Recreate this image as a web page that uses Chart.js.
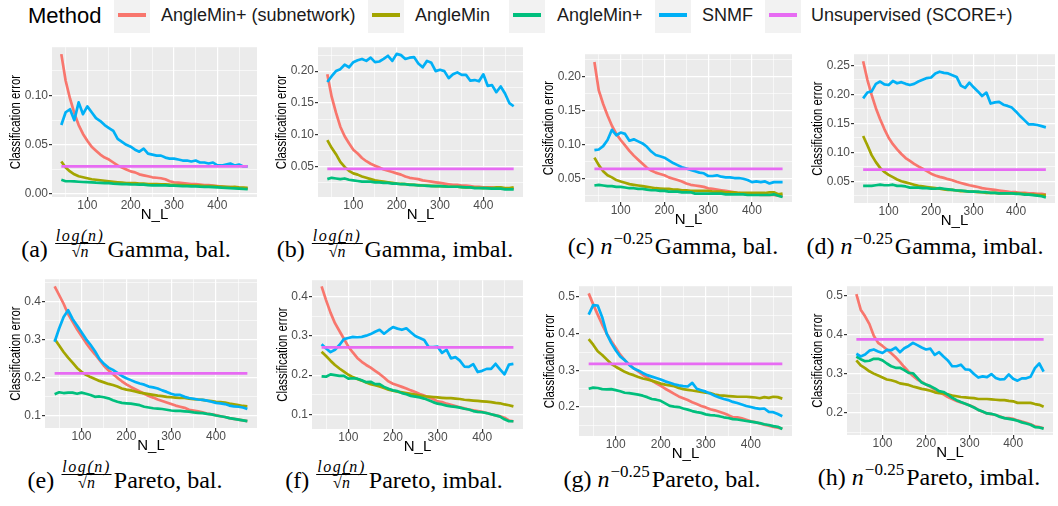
<!DOCTYPE html>
<html>
<head>
<meta charset="utf-8">
<script src="https://cdn.jsdelivr.net/npm/chart.js@4.4.1/dist/chart.umd.min.js"></script>
<style>
  body { margin: 0; background: #fff; width: 1058px; height: 506px; position: relative; overflow: hidden; font-family: "Liberation Sans", Arial, sans-serif; }
  canvas { position: absolute; }
  .key { position: absolute; top: 0; width: 36px; height: 33px; background: #F2F2F2; }
  .key i { position: absolute; left: 4px; right: 4px; top: 13px; height: 4px; }
  .lab { position: absolute; top: 6px; font-size: 18px; line-height: 18px; color: #1a1a1a; white-space: nowrap; }
  .cap { position: absolute; transform: translateX(-50%); font-family: "Liberation Serif", "Times New Roman", serif; font-size: 24px; line-height: 26px; white-space: nowrap; color: #000; }
  .frac { display: inline-block; text-align: center; font-size: 16px; line-height: 13px; margin: 0 2px 0 1px; }
  .frac .num { display: block; font-style: italic; border-bottom: 1px solid #000; padding: 0 1px 1px; letter-spacing: 1.6px; }
  .frac .den { display: block; padding-top: 1px; }
  .ov { border-top: 1px solid #000; font-style: italic; }
  .cap sup { font-size: 17px; vertical-align: 10px; line-height: 0; margin: 0 2px 0 1px; }
</style>
</head>
<body>
<div id="legend"></div>

<div class="cap" style="left:126px;top:229px">(a) <span class="frac"><span class="num">log(n)</span><span class="den">√<span class="ov">n</span></span></span>Gamma, bal.</div>
<div class="cap" style="left:395px;top:229px">(b) <span class="frac"><span class="num">log(n)</span><span class="den">√<span class="ov">n</span></span></span>Gamma, imbal.</div>
<div class="cap" style="left:673px;top:233px">(c) <i>n</i><sup>−0.25</sup>Gamma, bal.</div>
<div class="cap" style="left:925px;top:233px">(d) <i>n</i><sup>−0.25</sup>Gamma, imbal.</div>
<div class="cap" style="left:125px;top:460px">(e) <span class="frac"><span class="num">log(n)</span><span class="den">√<span class="ov">n</span></span></span>Pareto, bal.</div>
<div class="cap" style="left:394px;top:460px">(f) <span class="frac"><span class="num">log(n)</span><span class="den">√<span class="ov">n</span></span></span>Pareto, imbal.</div>
<div class="cap" style="left:662px;top:466px">(g) <i>n</i><sup>−0.25</sup>Pareto, bal.</div>
<div class="cap" style="left:929px;top:464px">(h) <i>n</i><sup>−0.25</sup>Pareto, imbal.</div>

<script>
// method names and ggplot hue colours
const methods = ["AngleMin+ (subnetwork)", "AngleMin", "AngleMin+", "SNMF", "Unsupervised (SCORE+)"];
const colors = ["#F8766D", "#A3A500", "#00BF7D", "#00B0F6", "#E76BF3"];

// N_L values on the x axis
const nL = [40, 50, 60, 70, 80, 90, 100, 110, 120, 130, 140, 150, 160, 170, 180, 190, 200, 210, 220, 230, 240, 250,
  260, 270, 280, 290, 300, 310, 320, 330, 340, 350, 360, 370, 380, 390, 400, 410, 420, 430, 440, 450, 460, 470];
const xTicks = [100, 200, 300, 400];

// (a) log(n)/sqrt(n), Gamma, balanced
const subA = [0.142,0.115,0.097,0.082,0.070,0.061,0.054,0.048,0.044,0.040,0.037,0.035,0.032,0.029,0.027,0.025,0.023,0.022,0.020,0.019,0.018,0.017,0.0165,0.016,0.015,0.013,0.012,0.0115,0.011,0.0105,0.010,0.010,0.0095,0.009,0.009,0.0085,0.008,0.0075,0.007,0.007,0.0065,0.006,0.006,0.0055];
const minA = [0.033,0.027,0.023,0.020,0.018,0.017,0.016,0.015,0.0145,0.014,0.0135,0.013,0.0125,0.012,0.0115,0.011,0.011,0.011,0.0105,0.0105,0.010,0.010,0.010,0.0098,0.0098,0.0095,0.0093,0.009,0.009,0.0088,0.0087,0.0085,0.0085,0.008,0.008,0.008,0.0077,0.0075,0.0073,0.007,0.0072,0.0068,0.0065,0.0062];
const plusA = [0.0145,0.013,0.013,0.0128,0.0125,0.0122,0.012,0.0118,0.0115,0.0113,0.011,0.011,0.0105,0.0103,0.010,0.010,0.0098,0.0097,0.0095,0.0095,0.009,0.0088,0.0088,0.0087,0.0087,0.0085,0.0085,0.0083,0.008,0.008,0.0078,0.0078,0.0075,0.0073,0.0072,0.007,0.0068,0.0065,0.0063,0.006,0.0058,0.0055,0.0052,0.005];
const snmfA = [0.070,0.083,0.086,0.075,0.093,0.081,0.089,0.083,0.077,0.074,0.070,0.067,0.064,0.056,0.053,0.050,0.048,0.045,0.043,0.046,0.041,0.040,0.039,0.039,0.037,0.036,0.036,0.035,0.034,0.034,0.033,0.034,0.032,0.032,0.031,0.032,0.029,0.029,0.030,0.031,0.029,0.030,0.028,0.028];
const scoreA = 0.028;
const yTicksA = [0.00, 0.05, 0.10];

// (b) log(n)/sqrt(n), Gamma, imbalanced
const subB = [0.195,0.160,0.135,0.113,0.098,0.087,0.077,0.071,0.064,0.059,0.055,0.052,0.049,0.046,0.044,0.042,0.040,0.038,0.035,0.033,0.032,0.031,0.029,0.028,0.027,0.026,0.025,0.024,0.023,0.022,0.022,0.021,0.021,0.020,0.019,0.019,0.018,0.018,0.018,0.017,0.017,0.016,0.016,0.016];
const minB = [0.092,0.080,0.070,0.058,0.050,0.044,0.040,0.038,0.035,0.033,0.031,0.029,0.028,0.027,0.026,0.025,0.024,0.0235,0.023,0.0225,0.022,0.0215,0.021,0.021,0.0205,0.020,0.020,0.0195,0.019,0.019,0.019,0.0185,0.018,0.018,0.0175,0.0175,0.017,0.0175,0.017,0.018,0.018,0.017,0.017,0.018];
const plusB = [0.031,0.033,0.032,0.031,0.032,0.030,0.029,0.028,0.027,0.027,0.027,0.026,0.026,0.025,0.025,0.024,0.024,0.023,0.023,0.022,0.022,0.021,0.021,0.0205,0.020,0.020,0.020,0.0195,0.019,0.019,0.019,0.0185,0.018,0.018,0.017,0.017,0.017,0.0165,0.016,0.016,0.016,0.015,0.015,0.015];
const snmfB = [0.183,0.192,0.200,0.203,0.210,0.206,0.214,0.217,0.219,0.216,0.221,0.214,0.215,0.219,0.224,0.216,0.227,0.225,0.219,0.221,0.222,0.212,0.206,0.216,0.213,0.200,0.202,0.200,0.189,0.195,0.198,0.194,0.194,0.185,0.186,0.184,0.195,0.177,0.178,0.167,0.176,0.165,0.150,0.145];
const scoreB = 0.047;
const yTicksB = [0.05, 0.10, 0.15, 0.20];

// (c) n^-0.25, Gamma, balanced
const subC = [0.222,0.180,0.160,0.143,0.128,0.116,0.107,0.099,0.091,0.084,0.078,0.072,0.066,0.062,0.059,0.057,0.055,0.052,0.050,0.048,0.046,0.043,0.041,0.040,0.039,0.038,0.036,0.035,0.034,0.033,0.032,0.031,0.030,0.029,0.028,0.028,0.027,0.027,0.026,0.026,0.026,0.026,0.025,0.024];
const minC = [0.081,0.070,0.061,0.055,0.052,0.048,0.046,0.044,0.042,0.041,0.040,0.039,0.038,0.037,0.036,0.0355,0.035,0.035,0.034,0.034,0.033,0.033,0.032,0.032,0.032,0.032,0.032,0.031,0.031,0.031,0.030,0.030,0.030,0.029,0.029,0.029,0.029,0.029,0.029,0.029,0.030,0.030,0.027,0.028];
const plusC = [0.040,0.041,0.040,0.039,0.039,0.038,0.038,0.037,0.036,0.036,0.035,0.035,0.034,0.033,0.033,0.032,0.032,0.031,0.031,0.031,0.030,0.030,0.030,0.028,0.028,0.028,0.028,0.028,0.028,0.028,0.027,0.027,0.027,0.027,0.027,0.026,0.026,0.026,0.026,0.026,0.026,0.027,0.025,0.023];
const snmfC = [0.092,0.093,0.098,0.107,0.122,0.114,0.118,0.116,0.106,0.108,0.105,0.102,0.097,0.090,0.085,0.083,0.081,0.077,0.073,0.070,0.067,0.065,0.063,0.061,0.059,0.058,0.054,0.054,0.055,0.053,0.052,0.052,0.051,0.051,0.050,0.048,0.045,0.046,0.045,0.046,0.043,0.045,0.045,0.045];
const scoreC = 0.0645;
const yTicksC = [0.05, 0.10, 0.15, 0.20];

// (d) n^-0.25, Gamma, imbalanced
const subD = [0.257,0.225,0.199,0.176,0.157,0.140,0.125,0.114,0.105,0.097,0.090,0.085,0.080,0.0755,0.0715,0.0675,0.063,0.060,0.0575,0.0557,0.0535,0.0517,0.049,0.047,0.045,0.043,0.0415,0.040,0.038,0.037,0.036,0.035,0.034,0.033,0.032,0.031,0.031,0.030,0.030,0.029,0.029,0.028,0.028,0.027];
const minD = [0.128,0.112,0.095,0.083,0.073,0.066,0.061,0.057,0.053,0.050,0.048,0.046,0.044,0.042,0.041,0.040,0.039,0.038,0.037,0.036,0.035,0.035,0.034,0.033,0.033,0.032,0.032,0.031,0.031,0.030,0.030,0.030,0.029,0.029,0.029,0.029,0.029,0.028,0.028,0.027,0.027,0.026,0.026,0.026];
const plusD = [0.042,0.042,0.042,0.043,0.044,0.043,0.043,0.044,0.042,0.042,0.041,0.039,0.039,0.039,0.038,0.038,0.037,0.037,0.038,0.037,0.036,0.035,0.034,0.034,0.033,0.032,0.032,0.032,0.031,0.031,0.030,0.030,0.029,0.029,0.029,0.029,0.028,0.028,0.027,0.027,0.026,0.025,0.024,0.022];
const snmfD = [0.193,0.203,0.205,0.218,0.222,0.217,0.216,0.223,0.219,0.221,0.218,0.216,0.218,0.222,0.225,0.228,0.229,0.236,0.239,0.237,0.236,0.233,0.230,0.215,0.211,0.220,0.212,0.205,0.197,0.203,0.184,0.186,0.187,0.182,0.180,0.177,0.170,0.162,0.155,0.148,0.148,0.147,0.145,0.143];
const scoreD = 0.070;
const yTicksD = [0.05, 0.10, 0.15, 0.20, 0.25];

// (e) log(n)/sqrt(n), Pareto, balanced
const subE = [0.441,0.418,0.395,0.368,0.348,0.328,0.310,0.292,0.276,0.262,0.247,0.232,0.220,0.210,0.200,0.191,0.183,0.176,0.170,0.164,0.158,0.152,0.148,0.143,0.139,0.135,0.131,0.127,0.124,0.121,0.116,0.114,0.112,0.109,0.106,0.104,0.102,0.099,0.097,0.094,0.092,0.090,0.088,0.086];
const minE = [0.302,0.285,0.268,0.253,0.240,0.226,0.216,0.208,0.202,0.197,0.192,0.188,0.184,0.181,0.177,0.172,0.169,0.167,0.164,0.161,0.159,0.157,0.155,0.153,0.152,0.150,0.149,0.148,0.147,0.147,0.145,0.144,0.143,0.142,0.140,0.139,0.137,0.136,0.135,0.132,0.130,0.128,0.126,0.125];
const plusE = [0.157,0.162,0.160,0.161,0.161,0.158,0.161,0.158,0.155,0.150,0.151,0.149,0.146,0.141,0.137,0.134,0.133,0.132,0.130,0.128,0.124,0.122,0.120,0.119,0.118,0.116,0.114,0.113,0.113,0.112,0.111,0.109,0.108,0.107,0.105,0.104,0.101,0.099,0.097,0.094,0.092,0.090,0.088,0.086];
const snmfE = [0.295,0.330,0.360,0.378,0.355,0.338,0.320,0.302,0.287,0.270,0.250,0.237,0.227,0.221,0.213,0.205,0.199,0.194,0.189,0.185,0.182,0.177,0.175,0.172,0.167,0.163,0.158,0.155,0.155,0.150,0.147,0.145,0.143,0.142,0.140,0.137,0.134,0.133,0.131,0.127,0.125,0.124,0.122,0.118];
const scoreE = 0.212;
const yTicksE = [0.1, 0.2, 0.3, 0.4];

// (f) log(n)/sqrt(n), Pareto, imbalanced
const subF = [0.427,0.392,0.360,0.333,0.313,0.293,0.273,0.258,0.244,0.234,0.226,0.219,0.211,0.203,0.194,0.184,0.178,0.174,0.170,0.166,0.161,0.157,0.152,0.148,0.143,0.139,0.133,0.131,0.127,0.124,0.121,0.118,0.115,0.112,0.110,0.108,0.106,0.103,0.100,0.097,0.095,0.091,0.084,0.082];
const minF = [0.260,0.249,0.237,0.226,0.217,0.209,0.201,0.195,0.190,0.186,0.181,0.177,0.174,0.171,0.167,0.163,0.160,0.158,0.156,0.154,0.152,0.150,0.148,0.146,0.145,0.144,0.143,0.142,0.141,0.141,0.140,0.139,0.137,0.136,0.135,0.134,0.133,0.132,0.131,0.129,0.128,0.125,0.123,0.120];
const plusF = [0.197,0.196,0.202,0.200,0.198,0.198,0.191,0.192,0.191,0.187,0.182,0.183,0.177,0.177,0.170,0.165,0.161,0.159,0.154,0.151,0.147,0.145,0.143,0.140,0.136,0.131,0.127,0.125,0.122,0.120,0.119,0.117,0.114,0.112,0.108,0.106,0.105,0.103,0.100,0.097,0.094,0.087,0.082,0.082];
const snmfF = [0.279,0.268,0.259,0.265,0.277,0.292,0.295,0.298,0.297,0.298,0.301,0.305,0.311,0.316,0.306,0.315,0.323,0.319,0.316,0.320,0.310,0.300,0.295,0.290,0.272,0.272,0.273,0.257,0.265,0.243,0.246,0.237,0.222,0.221,0.228,0.208,0.211,0.216,0.216,0.229,0.215,0.202,0.227,0.229];
const scoreF = 0.271;
const yTicksF = [0.1, 0.2, 0.3, 0.4];

// (g) n^-0.25, Pareto, balanced
const subG = [0.510,0.480,0.452,0.425,0.400,0.380,0.362,0.343,0.328,0.316,0.306,0.297,0.288,0.280,0.272,0.265,0.258,0.250,0.243,0.236,0.229,0.224,0.219,0.213,0.208,0.203,0.199,0.194,0.191,0.187,0.183,0.178,0.172,0.172,0.169,0.165,0.161,0.159,0.155,0.152,0.149,0.146,0.144,0.141];
const minG = [0.385,0.370,0.352,0.342,0.330,0.318,0.310,0.303,0.296,0.291,0.287,0.282,0.278,0.275,0.272,0.268,0.264,0.261,0.259,0.257,0.252,0.249,0.247,0.245,0.243,0.241,0.239,0.238,0.234,0.232,0.231,0.230,0.229,0.228,0.228,0.228,0.227,0.226,0.224,0.227,0.225,0.228,0.227,0.223];
const plusG = [0.250,0.253,0.252,0.249,0.248,0.249,0.246,0.243,0.239,0.238,0.236,0.234,0.231,0.227,0.222,0.220,0.217,0.210,0.203,0.201,0.200,0.196,0.193,0.189,0.186,0.184,0.180,0.178,0.177,0.175,0.172,0.170,0.167,0.166,0.164,0.162,0.160,0.158,0.156,0.153,0.151,0.148,0.146,0.140];
const snmfG = [0.452,0.478,0.477,0.445,0.400,0.375,0.355,0.338,0.328,0.315,0.305,0.300,0.293,0.287,0.283,0.279,0.275,0.270,0.266,0.262,0.259,0.257,0.256,0.266,0.250,0.246,0.242,0.237,0.231,0.226,0.222,0.219,0.214,0.211,0.207,0.203,0.200,0.197,0.195,0.196,0.187,0.186,0.181,0.175];
const scoreG = 0.318;
const yTicksG = [0.2, 0.3, 0.4, 0.5];

// (h) n^-0.25, Pareto, imbalanced
const subH = [0.505,0.465,0.448,0.428,0.398,0.380,0.372,0.363,0.353,0.343,0.331,0.318,0.306,0.295,0.286,0.280,0.273,0.267,0.260,0.254,0.248,0.241,0.236,0.231,0.227,0.224,0.220,0.215,0.208,0.203,0.199,0.197,0.195,0.191,0.187,0.187,0.185,0.181,0.178,0.175,0.171,0.166,0.164,0.161];
const minH = [0.335,0.322,0.315,0.307,0.301,0.296,0.291,0.286,0.284,0.281,0.276,0.274,0.272,0.268,0.265,0.262,0.260,0.257,0.253,0.251,0.250,0.248,0.245,0.243,0.241,0.240,0.239,0.238,0.236,0.236,0.236,0.235,0.234,0.233,0.233,0.231,0.230,0.226,0.226,0.226,0.226,0.223,0.221,0.216];
const plusH = [0.345,0.338,0.333,0.334,0.339,0.339,0.335,0.327,0.320,0.316,0.316,0.310,0.303,0.302,0.290,0.278,0.273,0.269,0.263,0.256,0.254,0.247,0.239,0.233,0.228,0.224,0.219,0.214,0.208,0.204,0.199,0.198,0.195,0.190,0.187,0.185,0.183,0.180,0.176,0.173,0.170,0.164,0.163,0.160];
const snmfH = [0.352,0.345,0.350,0.360,0.363,0.358,0.354,0.362,0.361,0.368,0.356,0.366,0.372,0.380,0.374,0.368,0.363,0.365,0.349,0.356,0.345,0.335,0.320,0.320,0.324,0.312,0.311,0.300,0.291,0.294,0.292,0.300,0.290,0.286,0.287,0.299,0.288,0.283,0.289,0.289,0.293,0.315,0.327,0.306];
const scoreH = 0.389;
const yTicksH = [0.2, 0.3, 0.4, 0.5];

// panel layout: plot rectangle [left, top, right, bottom] and y range
const panels = [
  { rect: [52, 45, 257, 197],   yMin: -0.003, yMax: 0.149, yTicks: yTicksA, dp: 2, lines: [subA, minA, plusA, snmfA], score: scoreA },
  { rect: [318, 45, 523, 197],  yMin: 0.003,  yMax: 0.2374, yTicks: yTicksB, dp: 2, lines: [subB, minB, plusB, snmfB], score: scoreB },
  { rect: [585, 52, 792, 202],  yMin: 0.0157, yMax: 0.2334, yTicks: yTicksC, dp: 2, lines: [subC, minC, plusC, snmfC], score: scoreC },
  { rect: [854, 52, 1055, 203], yMin: 0.0124, yMax: 0.2692, yTicks: yTicksD, dp: 2, lines: [subD, minD, plusD, snmfD], score: scoreD },
  { rect: [45, 277, 257, 428],  yMin: 0.068,  yMax: 0.4596, yTicks: yTicksE, dp: 1, lines: [subE, minE, plusE, snmfE], score: scoreE },
  { rect: [312, 278, 523, 429], yMin: 0.0622, yMax: 0.4429, yTicks: yTicksF, dp: 1, lines: [subF, minF, plusF, snmfF], score: scoreF },
  { rect: [579, 284, 792, 436], yMin: 0.121,  yMax: 0.5296, yTicks: yTicksG, dp: 1, lines: [subG, minG, plusG, snmfG], score: scoreG },
  { rect: [847, 284, 1053, 435], yMin: 0.1436, yMax: 0.5253, yTicks: yTicksH, dp: 1, lines: [subH, minH, plusH, snmfH], score: scoreH }
];

const X_MIN = 18.5, X_MAX = 491.5;
const Y_AXIS_W = 60, X_AXIS_H = 32, PAD_TOP = 6, PAD_RIGHT = 8;

// major ticks plus ggplot-style minor breaks halfway between them
function withMinor(major, min, max) {
  const half = (major[1] - major[0]) / 2;
  const out = [];
  const first = major[0] - half;
  if (first >= min) out.push({ value: first, minor: true });
  major.forEach((v, i) => {
    out.push({ value: v, minor: false });
    const m = v + half;
    if (i < major.length - 1 || m <= max) out.push({ value: m, minor: true });
  });
  return out;
}

const panelBg = {
  id: "panelBg",
  beforeDraw(chart) {
    const { ctx, chartArea: a } = chart;
    ctx.save();
    ctx.fillStyle = "#EBEBEB";
    ctx.fillRect(a.left, a.top, a.right - a.left, a.bottom - a.top);
    ctx.restore();
  }
};

// rotated, slightly condensed y-axis title like the squeezed ggplot export
const yTitle = {
  id: "yTitle",
  afterDraw(chart) {
    const { ctx, chartArea: a, scales } = chart;
    ctx.save();
    ctx.font = '12px "Liberation Sans"';
    const w = Math.max(...scales.y.ticks.map(t => ctx.measureText(t.label || "").width));
    const cx = a.left - 3.5 - w - 9;
    ctx.translate(cx, (a.top + a.bottom) / 2);
    ctx.rotate(-Math.PI / 2);
    ctx.scale(0.76, 1);
    ctx.font = '15px "Liberation Sans"';
    ctx.fillStyle = "#000";
    ctx.textAlign = "center";
    ctx.textBaseline = "middle";
    ctx.fillText("Classification error", 0, 0);
    ctx.restore();
  }
};

function gridOpts() {
  return {
    color: "#FFFFFF",
    lineWidth: c => (c.tick && c.tick.minor ? 0.6 : 1.2),
    tickColor: c => (c.tick && c.tick.minor ? "rgba(0,0,0,0)" : "#333333"),
    tickLength: 3,
    drawTicks: true
  };
}

function makePanel(p) {
  const [L, T, R, B] = p.rect;
  const cv = document.createElement("canvas");
  const w = (R - L) + Y_AXIS_W + PAD_RIGHT;
  const h = (B - T) + PAD_TOP + X_AXIS_H;
  cv.width = w; cv.height = h;
  cv.style.left = (L - Y_AXIS_W) + "px";
  cv.style.top = (T - PAD_TOP) + "px";
  cv.style.width = w + "px"; cv.style.height = h + "px";
  document.body.appendChild(cv);

  const datasets = p.lines.map((arr, i) => ({
    label: methods[i],
    data: nL.map((x, j) => ({ x: x, y: arr[j] })),
    borderColor: colors[i],
    borderWidth: 2.7,
    pointRadius: 0,
    tension: 0,
    borderJoinStyle: "round",
    order: 4 - i
  }));
  datasets.push({
    label: methods[4],
    data: [{ x: nL[0], y: p.score }, { x: nL[nL.length - 1], y: p.score }],
    borderColor: colors[4],
    borderWidth: 2.7,
    pointRadius: 0,
    order: 0
  });

  new Chart(cv.getContext("2d"), {
    type: "line",
    data: { datasets },
    options: {
      responsive: false,
      animation: false,
      devicePixelRatio: 1,
      events: [],
      layout: { padding: { left: 0, top: PAD_TOP, right: PAD_RIGHT, bottom: 0 } },
      plugins: { legend: { display: false }, tooltip: { enabled: false } },
      scales: {
        x: {
          type: "linear",
          min: X_MIN, max: X_MAX,
          afterBuildTicks: s => { s.ticks = withMinor(xTicks, X_MIN, X_MAX); },
          afterFit: s => { s.height = X_AXIS_H; },
          grid: gridOpts(),
          border: { display: false },
          ticks: {
            autoSkip: false, maxRotation: 0, padding: -2,
            color: "#4D4D4D", font: { family: "Liberation Sans", size: 12 },
            callback: (v, i, ticks) => (ticks[i].minor ? "" : String(v))
          },
          title: {
            display: true, text: "N_L", color: "#000",
            font: { family: "Liberation Sans", size: 15 },
            padding: { top: 0, bottom: 5 }
          }
        },
        y: {
          type: "linear",
          min: p.yMin, max: p.yMax,
          afterBuildTicks: s => { s.ticks = withMinor(p.yTicks, p.yMin, p.yMax); },
          afterFit: s => { s.width = Y_AXIS_W; },
          grid: gridOpts(),
          border: { display: false },
          ticks: {
            autoSkip: false, padding: 1,
            color: "#4D4D4D", font: { family: "Liberation Sans", size: 12 },
            callback: (v, i, ticks) => (ticks[i].minor ? "" : Number(v).toFixed(p.dp))
          }
        }
      }
    },
    plugins: [panelBg, yTitle]
  });
}

panels.forEach(makePanel);

// shared legend across the top
const keyLeft = [114, 368, 509, 655, 765];
const labLeft = [161, 415, 557, 702, 811];
const legend = document.getElementById("legend");
legend.innerHTML = '<div class="lab" style="left:28px;top:5px;font-size:22px;line-height:22px;color:#000">Method</div>' +
  methods.map((m, i) =>
    '<div class="key" style="left:' + keyLeft[i] + 'px"><i style="background:' + colors[i] + '"></i></div>' +
    '<div class="lab" style="left:' + labLeft[i] + 'px">' + m + '</div>'
  ).join("");
</script>
</body>
</html>
